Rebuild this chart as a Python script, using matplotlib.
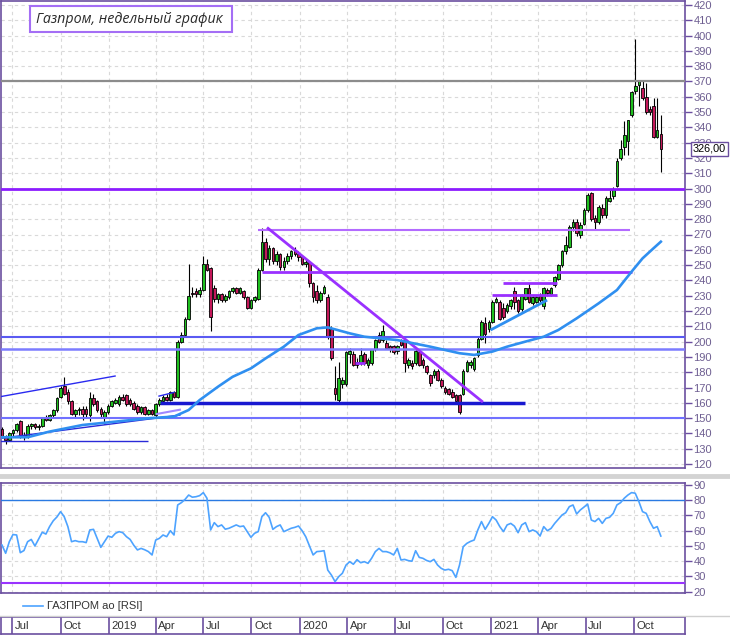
import numpy as np
import pandas as pd
import matplotlib

matplotlib.use("Agg")
import matplotlib.pyplot as plt
import matplotlib.dates as mdates
import matplotlib.transforms as mtransforms
from matplotlib.lines import Line2D
from matplotlib.patches import Rectangle

# weekly candles, Jun 2018 .. Nov 2021
open_ = [143, 138, 136, 140, 142, 148, 139, 138, 145, 146,
         144, 145, 150, 149, 152, 155, 164, 171, 167, 161,
         153, 155, 156, 156, 152, 163, 161, 156, 151, 154,
         158, 160, 159, 164, 165, 162, 160, 158, 154, 157,
         153, 155, 152, 159, 161, 164, 162, 167, 164, 200,
         204, 215, 232, 233, 231, 234, 251, 248, 235, 228,
         231, 227, 229, 233, 235, 232, 233, 229, 222, 227,
         228, 247, 265, 254, 261, 253, 257, 249, 253, 256,
         259, 257, 255, 251, 252, 238, 233, 227, 232, 229,
         208, 170, 162, 172, 172, 192, 192, 187, 186, 192,
         185, 186, 195, 204, 201, 199, 197, 197, 194, 201,
         201, 185, 186, 186, 193, 188, 184, 178, 178, 181,
         175, 170, 169, 167, 165, 165, 166, 181, 185, 182,
         191, 202, 212, 208, 213, 226, 226, 222, 220, 223,
         233, 227, 221, 228, 235, 225, 226, 230, 223, 234,
         231, 237, 241, 250, 259, 262, 275, 278, 270, 277,
         286, 297, 281, 278, 287, 283, 292, 295, 302, 320,
         327, 331, 348, 364, 368, 366, 360, 352, 354, 334, 336]
high = [144, 139, 141, 143, 147, 149, 141, 146, 147, 147,
        146, 151, 152, 153, 156, 164, 171, 177, 169, 162,
        156, 157, 158, 158, 167, 166, 162, 157, 155, 159,
        162, 163, 165, 166, 166, 163, 161, 159, 158, 158,
        156, 156, 160, 163, 165, 166, 168, 168, 201, 206,
        216, 251, 236, 235, 236, 256, 254, 249, 237, 232,
        232, 231, 234, 236, 236, 236, 234, 230, 228, 230,
        248, 274, 268, 263, 262, 259, 258, 255, 258, 260,
        262, 259, 256, 254, 253, 239, 237, 233, 237, 231,
        210, 184, 187, 177, 194, 196, 194, 189, 196, 193,
        189, 195, 202, 206, 211, 201, 198, 198, 198, 202,
        202, 189, 188, 195, 195, 189, 185, 179, 182, 182,
        176, 171, 170, 169, 166, 166, 182, 188, 188, 190,
        203, 214, 216, 214, 227, 229, 227, 225, 225, 228,
        236, 228, 231, 235, 238, 230, 230, 232, 236, 235,
        236, 243, 251, 260, 269, 276, 280, 280, 278, 287,
        297, 298, 283, 289, 290, 295, 299, 301, 320, 332,
        344, 345, 364, 398, 371, 370, 369, 354, 359, 359, 348]
low = [137, 133, 135, 138, 141, 137, 136, 137, 143, 143,
       142, 144, 148, 148, 151, 154, 163, 165, 159, 152,
       151, 152, 149, 151, 148, 158, 154, 151, 146, 153,
       157, 159, 158, 161, 158, 158, 155, 153, 153, 152,
       152, 152, 151, 158, 160, 161, 161, 163, 163, 199,
       203, 214, 229, 229, 229, 233, 246, 207, 226, 225,
       226, 226, 228, 232, 231, 231, 228, 221, 221, 226,
       227, 246, 252, 250, 251, 250, 247, 247, 251, 254,
       256, 253, 250, 249, 236, 226, 225, 226, 231, 202,
       188, 162, 160, 170, 171, 186, 184, 183, 185, 185,
       183, 185, 194, 199, 200, 195, 193, 192, 192, 197,
       180, 183, 182, 185, 184, 183, 179, 171, 176, 174,
       170, 166, 165, 163, 160, 153, 165, 180, 183, 181,
       190, 201, 199, 206, 212, 225, 214, 215, 219, 221,
       221, 219, 220, 227, 225, 224, 225, 226, 221, 230,
       230, 236, 240, 249, 257, 261, 272, 269, 268, 276,
       285, 279, 273, 277, 281, 281, 291, 293, 301, 319,
       322, 322, 347, 362, 354, 358, 349, 348, 333, 333, 311]
close = [138, 136, 140, 142, 146, 139, 138, 145, 146, 144,
         145, 150, 149, 152, 155, 163, 170, 166, 161, 153,
         155, 156, 153, 153, 163, 159, 155, 153, 154, 158,
         161, 162, 164, 162, 159, 159, 156, 154, 157, 153,
         155, 153, 159, 162, 164, 162, 167, 164, 200, 204,
         215, 230, 231, 231, 234, 251, 247, 216, 228, 231,
         227, 230, 233, 235, 232, 235, 229, 222, 227, 229,
         247, 265, 254, 261, 253, 257, 249, 253, 256, 259,
         257, 255, 251, 252, 238, 229, 227, 232, 236, 203,
         189, 166, 176, 175, 193, 194, 185, 185, 191, 186,
         188, 195, 201, 200, 207, 196, 195, 193, 197, 198,
         186, 188, 184, 194, 185, 185, 180, 173, 181, 175,
         171, 167, 166, 164, 161, 154, 181, 187, 187, 189,
         202, 213, 205, 213, 226, 228, 215, 216, 224, 227,
         226, 220, 230, 235, 226, 229, 229, 227, 235, 232,
         235, 242, 250, 259, 263, 275, 278, 271, 276, 286,
         296, 280, 278, 288, 283, 294, 294, 300, 318, 326,
         335, 345, 363, 367, 370, 359, 350, 350, 334, 338, 326]
rsi = [50.6, 45.2, 52.8, 57.5, 57.2, 45.6, 47.0, 52.8, 54.3, 50.0,
       54.5, 59.0, 57.8, 62.7, 66.5, 69.0, 72.5, 69.2, 62.7, 52.8,
       53.5, 52.8, 52.8, 52.2, 60.5, 60.9, 55.0, 49.1, 52.8, 56.5,
       55.7, 58.3, 59.4, 58.7, 56.1, 54.3, 50.5, 47.4, 48.4, 47.5,
       46.3, 44.1, 53.9, 55.0, 57.2, 56.1, 60.0, 57.2, 76.9, 78.4,
       80.5, 83.4, 82.0, 82.3, 83.0, 85.0, 81.3, 60.5, 65.3, 62.7,
       63.8, 61.0, 61.6, 62.7, 63.8, 62.7, 63.1, 59.4, 55.7, 58.3,
       59.4, 69.2, 71.8, 68.8, 60.9, 62.7, 63.8, 59.4, 60.5, 61.6,
       62.2, 63.1, 60.0, 56.0, 50.0, 44.1, 46.3, 46.5, 46.9, 34.2,
       30.9, 26.6, 29.9, 32.1, 37.5, 39.7, 38.0, 41.0, 39.0, 39.7,
       38.6, 42.0, 46.3, 48.4, 46.3, 46.3, 45.5, 44.1, 48.4, 40.8,
       41.2, 40.4, 40.0, 46.9, 42.5, 41.9, 40.5, 39.7, 41.2, 37.5,
       35.3, 34.2, 34.7, 33.8, 29.4, 37.5, 49.5, 51.7, 53.0, 53.9,
       60.5, 66.0, 60.9, 64.8, 69.2, 67.0, 62.7, 59.4, 63.8, 64.8,
       63.0, 58.7, 63.8, 65.3, 59.4, 60.5, 59.4, 56.5, 62.7, 60.0,
       61.5, 64.8, 67.5, 70.3, 71.8, 75.8, 76.9, 71.0, 73.6, 75.5,
       77.5, 67.0, 66.0, 68.1, 64.8, 68.1, 68.8, 71.4, 76.9, 78.4,
       81.3, 83.4, 85.0, 84.6, 79.1, 72.5, 71.4, 66.0, 61.6, 62.7, 56.5]

# moving average, read at a few weeks
ma_week = [0, 7, 13, 22, 31, 40, 47, 51, 54, 59, 63, 68, 72, 77, 81, 86, 89,
           95, 99, 108, 117, 125, 129, 134, 138, 143, 148, 152, 157, 163,
           168, 172, 175, 178, 180]
ma_value = [137.5, 137.5, 141.2, 145.5, 147.7, 149.9, 151.0, 155.3, 161.8,
            170.5, 177.0, 182.5, 189.0, 196.7, 204.3, 208.7, 209.3, 205.4,
            203.2, 201.0, 196.7, 192.4, 191.3, 193.5, 196.7, 200.0, 203.2,
            207.6, 215.2, 225.0, 233.7, 245.7, 254.4, 261.0, 265.3]

quarter_labels = ["Jul", "Oct", "2019", "Apr", "Jul", "Oct", "2020", "Apr",
                  "Jul", "Oct", "2021", "Apr", "Jul", "Oct"]
price_ticks = list(range(120, 421, 10))
rsi_ticks = list(range(20, 91, 10))
last_price = 326.0

PURPLE = "#6b4fa0"
TICKTXT = "#6e5f91"
GRID = "#d9d9d9"
VIOLET = "#8c1cff"
GREEN = "#1fc01f"
RED = "#c4185a"
MA_BLUE = "#2f8ff0"
RSI_BLUE = "#4da3ff"

W, H = 730, 636


def fx(px):
    return px / W


def fy(py):
    return 1 - py / H


t0 = mdates.date2num(pd.Timestamp("2018-06-11"))
weeks = pd.date_range("2018-06-11", periods=len(close), freq="7D")
t = mdates.date2num(weeks)
quarters = mdates.date2num(pd.date_range("2018-07-01", "2021-10-01", freq="QS"))


def wk(j):
    return t0 + 7 * np.asarray(j, dtype=float)


xlim = (wk(-0.27), wk(186.6))

fig = plt.figure(figsize=(W / 100, H / 100), dpi=100)
plt.rcParams["font.family"] = ["Liberation Sans", "DejaVu Sans"]

# ---------------- price panel ----------------
ax = fig.add_axes([fx(1), fy(468), fx(685) - fx(1), fy(1) - fy(468)])
ax.set_xlim(*xlim)
ax.set_ylim(117.4, 422.6)
ax.set_xticks(quarters)
ax.set_yticks(price_ticks)
ax.grid(True, color=GRID, linestyle=(0, (3, 3)), linewidth=0.8)
ax.set_axisbelow(True)
ax.tick_params(axis="x", length=0, labelbottom=False)
ax.yaxis.tick_right()
ax.tick_params(axis="y", length=5, width=1, color=PURPLE, labelcolor=TICKTXT,
               labelsize=8, pad=1)
for s in ax.spines.values():
    s.set_color(PURPLE)
    s.set_linewidth(1.2)

o = np.array(open_, float)
c = np.array(close, float)
ax.vlines(t, low, high, color="black", linewidth=0.8, zorder=3)
body_lo = np.minimum(o, c)
body_h = np.maximum(np.abs(c - o), 0.6)
colors = [GREEN if cc >= oo else RED for oo, cc in zip(o, c)]
ax.bar(t, body_h, bottom=body_lo, width=5, color=colors, edgecolor="black",
       linewidth=0.6, zorder=4)

# full-width levels
ax.axhline(370, color="#8c8c8c", linewidth=1.6, zorder=5)
ax.axhline(300, color=VIOLET, linewidth=2.0, zorder=5)
ax.axhline(202.8, color="#5a5af2", linewidth=1.5, zorder=5)
ax.axhline(195.3, color="#7c7cff", linewidth=1.8, zorder=5)
ax.axhline(150.2, color="#7070ff", linewidth=1.5, zorder=5)

# partial levels
ax.hlines(273.2, wk(69.9), wk(171.6), color="#b36bff", linewidth=1.5, zorder=5)
ax.hlines(245.8, wk(71), wk(172.1), color="#9a30ff", linewidth=2.0, zorder=5)
ax.hlines(238.6, wk(136.9), wk(151.6), color="#9a30ff", linewidth=2.0, zorder=5)
ax.hlines(230.5, wk(133.9), wk(151.6), color="#9a30ff", linewidth=2.0, zorder=5)
ax.hlines(186.0, wk(96.4), wk(99.2), color="#9a30ff", linewidth=2.0, zorder=5)
ax.hlines(159.8, wk(43.2), wk(142.9), color="#1818d0", linewidth=2.5, zorder=5)
ax.hlines(135.0, wk(-0.5), wk(39.9), color="#2a2ad8", linewidth=1.0, zorder=5)

# trend lines
ax.plot(wk([72.7, 131.1]), [274, 161], color="#9a30ff", linewidth=2.0, zorder=5)
ax.plot(wk([133.8, 148.6]), [208, 226.7], color=MA_BLUE, linewidth=2.0, zorder=5)
ax.plot(wk([-0.5, 30.9]), [164, 177.5], color="#2a2af0", linewidth=1.0, zorder=5)
ax.plot(wk([0.3, 48.6]), [137, 152], color="#2a2ad8", linewidth=1.0, zorder=5)
ax.plot(wk([42.3, 48.6]), [152.7, 155.5], color="#a088ff", linewidth=1.5, zorder=5)
ax.plot(wk([42.9, 47.0]), [164.4, 166.8], color="#2a2af0", linewidth=1.0, zorder=5)

# moving average
ax.plot(wk(ma_week), ma_value, color=MA_BLUE, linewidth=1.9, zorder=6,
        solid_joinstyle="round")

# last price tag
tr = mtransforms.blended_transform_factory(ax.transAxes, ax.transData)
ax.text(1.011, last_price, f"{last_price:.2f}".replace(".", ","), transform=tr,
        ha="left", va="center", fontsize=7.8, color="black", zorder=10,
        bbox=dict(boxstyle="square,pad=0.18", fc="white", ec=PURPLE, lw=1.0),
        clip_on=False)

# ---------------- RSI panel ----------------
ax2 = fig.add_axes([fx(1), fy(593), fx(685) - fx(1), fy(483) - fy(593)])
ax2.set_xlim(*xlim)
ax2.set_ylim(19.15, 91.3)
ax2.set_xticks(quarters)
ax2.set_yticks(rsi_ticks)
ax2.grid(True, color=GRID, linestyle=(0, (3, 3)), linewidth=0.8)
ax2.set_axisbelow(True)
ax2.tick_params(axis="x", length=0, labelbottom=False)
ax2.yaxis.tick_right()
ax2.tick_params(axis="y", length=5, width=1, color=PURPLE, labelcolor=TICKTXT,
                labelsize=8, pad=1)
for s in ax2.spines.values():
    s.set_color(PURPLE)
    s.set_linewidth(1.2)
ax2.axhline(80, color="#2a7ae2", linewidth=1.0, zorder=3)
ax2.axhline(26, color="#9933ff", linewidth=1.5, zorder=3)
ax2.plot(t, rsi, color=RSI_BLUE, linewidth=1.2, zorder=4)

# ---------------- date strip ----------------
ax3 = fig.add_axes([fx(1), fy(634), fx(685) - fx(1), fy(617) - fy(634)])
ax3.set_xlim(*xlim)
ax3.set_ylim(0, 1)
ax3.set_xticks([])
ax3.set_yticks([])
for s in ax3.spines.values():
    s.set_color(PURPLE)
    s.set_linewidth(1.2)
ax3.vlines(quarters, 0, 1, color=PURPLE, linewidth=1.2)
for q, lab in zip(quarters, quarter_labels):
    ax3.text(q + 5, 0.45, lab, ha="left", va="center", fontsize=8.2,
             color="#333333")

# ---------------- figure decorations ----------------
fig.add_artist(Line2D([0, 1], [fy(476), fy(476)], color="#d3d3d3",
                      linewidth=3.5, transform=fig.transFigure))
fig.add_artist(Line2D([0, 1], [fy(616), fy(616)], color="#cfcfcf",
                      linewidth=1.0, transform=fig.transFigure))

fig.add_artist(Line2D([fx(23), fx(43)], [fy(606), fy(606)], color=RSI_BLUE,
                      linewidth=1.2, transform=fig.transFigure))
fig.text(fx(47), fy(606), "ГАЗПРОМ ао [RSI]", fontsize=8, va="center",
         color="#333333")

fig.add_artist(Rectangle((fx(30), fy(32)), fx(232) - fx(30), fy(6) - fy(32),
                         transform=fig.transFigure, fc="white", ec="#a46ef5",
                         lw=1.5, zorder=10))
fig.text(fx(36), fy(19.5), "Газпром, недельный график", fontsize=10.3,
         style="italic", family=["Open Sans", "DejaVu Sans"], color="#2a2a2a",
         va="center", zorder=11)

fig.savefig("out.png", dpi=100)
